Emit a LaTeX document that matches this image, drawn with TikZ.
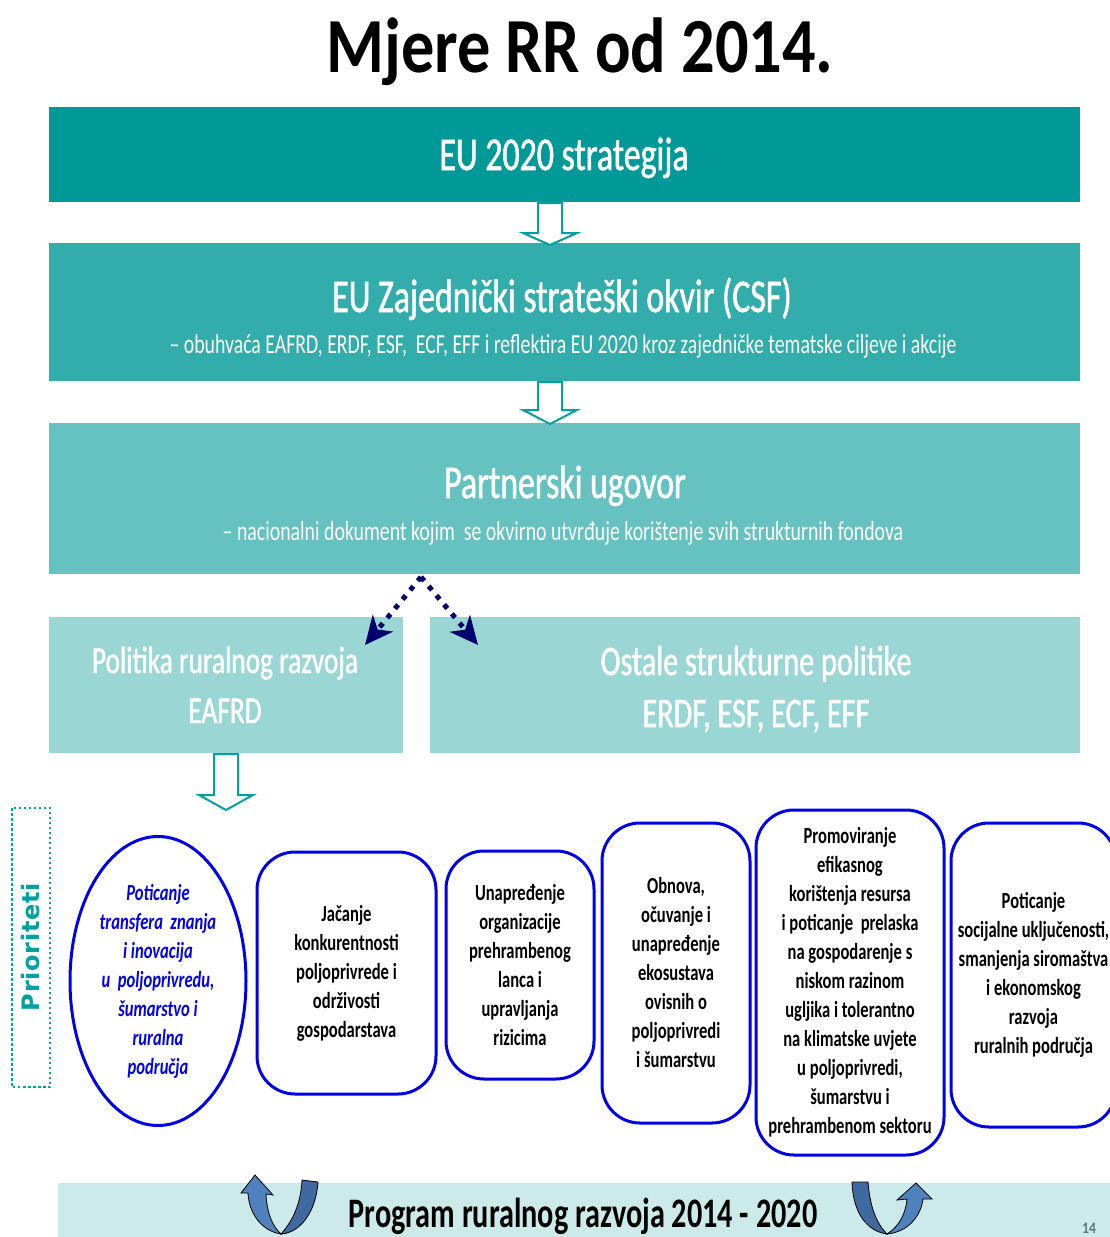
\documentclass[tikz,border=0pt]{standalone}
\usepackage{fontspec}
\setmainfont{Carlito}[FakeStretch=0.85]
\newfontfamily\narrowfont{Carlito}[FakeStretch=0.72]
\newfontfamily\narrowmed{Carlito}[FakeStretch=0.72,FakeBold=1.2]
\newfontfamily\priofont{DejaVu Sans}[LetterSpace=3]
\usetikzlibrary{arrows.meta,calc,shapes.geometric}
\definecolor{tA}{RGB}{0,153,152}
\definecolor{tB}{RGB}{51,173,171}
\definecolor{tC}{RGB}{102,194,192}
\definecolor{tD}{RGB}{153,214,212}
\definecolor{tE}{RGB}{204,234,234}
\definecolor{bordblue}{RGB}{0,0,230}
\definecolor{navyar}{RGB}{0,0,110}
\definecolor{uDark}{RGB}{62,106,160}
\definecolor{uLight}{RGB}{79,129,189}
\definecolor{arrteal}{RGB}{0,160,160}
\definecolor{pgnum}{RGB}{90,120,120}
\newcommand\hollowdown[4]{%
  \draw[arrteal,line width=2pt,fill=white,line join=miter]
    (#1-12,#2) -- (#1+12,#2) -- (#1+12,#3) -- (#1+27,#3) -- (#1,#4)
    -- (#1-27,#3) -- (#1-12,#3) -- cycle;}
\tikzset{
  band/.style={draw=none,anchor=north west,inner sep=0pt},
  ttl/.style={anchor=base,text=white,font=\narrowmed\fontsize{47}{54}\selectfont},
  sub/.style={anchor=base,text=white,font=\narrowfont\fontsize{27.5}{32}\selectfont},
  prbox/.style={draw=bordblue,line width=3pt,rounded corners=38pt,fill=white,
    align=center,inner sep=0pt,font=\narrowfont\bfseries\fontsize{23}{29}\selectfont},
  dotarrow/.style={navyar,line width=5pt,dash pattern=on 5pt off 7pt,
    -{Stealth[length=28pt,width=26pt,inset=8pt]}},
}
\begin{document}
\begin{tikzpicture}[x=1pt,y=-1pt]
\useasboundingbox (0,0) rectangle (1110,1237);
\fill[white] (0,0) rectangle (1110,1237);
\clip (0,0) rectangle (1110,1237);

% title
\node[anchor=base,font=\bfseries\fontsize{78}{90}\selectfont] (title) at (580,72) {Mjere RR od 2014.};

% bands
\node[band,fill=tA,minimum width=1031pt,minimum height=95pt] (b1) at (49,107) {};
\node[ttl] (b1t) at (564,170) {EU 2020 strategija};

\node[band,fill=tB,minimum width=1031pt,minimum height=138pt] (b2) at (49,243) {};
\node[ttl] (b2t) at (562,312) {EU Zajednički strateški okvir (CSF)};
\node[sub] (b2s) at (563,353) {– obuhvaća EAFRD, ERDF, ESF, \ ECF, EFF i reflektira EU 2020 kroz zajedničke tematske ciljeve i akcije};

\node[band,fill=tC,minimum width=1031pt,minimum height=151pt] (b3) at (49,423) {};
\node[ttl] (b3t) at (565,498) {Partnerski ugovor};
\node[sub] (b3s) at (563,540) {– nacionalni dokument kojim \ se okvirno utvrđuje korištenje svih strukturnih fondova};

\node[band,fill=tD,minimum width=354pt,minimum height=136pt] (b4a) at (49,617) {};
\node[anchor=base,text=white,font=\narrowmed\fontsize{38}{44}\selectfont] (b4at1) at (225,673) {Politika ruralnog razvoja};
\node[anchor=base,text=white,font=\narrowmed\fontsize{38}{44}\selectfont] (b4at2) at (225,723) {EAFRD};

\node[band,fill=tD,minimum width=650pt,minimum height=136pt] (b4b) at (430,617) {};
\node[anchor=base,text=white,font=\narrowmed\fontsize{42}{48}\selectfont] (b4bt1) at (756,675) {Ostale strukturne politike};
\node[anchor=base,text=white,font=\narrowmed\fontsize{42}{48}\selectfont] (b4bt2) at (756,727) {ERDF, ESF, ECF, EFF};

% hollow arrows
\hollowdown{550}{203}{233}{245}
\hollowdown{550}{382}{410}{424}
\hollowdown{226}{754}{795}{810}

% dotted arrows
\coordinate (apex) at (421,577);
\coordinate (endL) at (365,645);
\coordinate (endR) at (478,645);
\draw[dotarrow] (apex) -- (endL);
\draw[dotarrow] (apex) -- (endR);

% Prioriteti
\draw[arrteal,line width=2.5pt,dash pattern=on 2.5pt off 2.5pt] (12,808) rectangle (50,1087);
\node[rotate=90,text=arrteal,font=\priofont\bfseries\fontsize{24}{28}\selectfont] (prio) at (31,947) {Prioriteti};

% priorities
\node[draw=bordblue,line width=3pt,ellipse,fill=white,minimum width=176pt,minimum height=289pt,inner sep=0pt,
  align=center,text=bordblue,font=\narrowfont\bfseries\itshape\fontsize{23}{29}\selectfont] (p1) at (158,981)
  {Poticanje\\ transfera \ znanja\\ i inovacija\\ u \ poljoprivredu,\\ šumarstvo i\\ ruralna\\ područja};
\node[prbox,minimum width=179pt,minimum height=242pt] (p2) at (346.5,973)
  {Jačanje\\ konkurentnosti\\ poljoprivrede i\\ održivosti\\ gospodarstava};
\node[prbox,minimum width=148pt,minimum height=228pt] (p3) at (520,965)
  {Unapređenje\\ organizacije\\ prehrambenog\\ lanca i\\ upravljanja\\ rizicima};
\node[prbox,minimum width=148pt,minimum height=300pt] (p4) at (676,973)
  {Obnova,\\ očuvanje i\\ unapređenje\\ ekosustava\\ ovisnih o\\ poljoprivredi\\ i šumarstvu};
\node[prbox,minimum width=188pt,minimum height=345pt] (p5) at (850,982.5)
  {Promoviranje\\ efikasnog\\ korištenja resursa\\ i poticanje \ prelaska\\ na gospodarenje s\\ niskom razinom\\ ugljika i tolerantno\\ na klimatske uvjete\\ u poljoprivredi,\\ šumarstvu i\\ prehrambenom sektoru};
\node[prbox,minimum width=165pt,minimum height=304pt] (p6) at (1033.5,975)
  {Poticanje\\ socijalne uključenosti,\\ smanjenja siromaštva\\ i ekonomskog\\ razvoja\\ ruralnih područja};

% bottom band
\node[band,fill=tE,minimum width=1060pt,minimum height=70pt] (b5) at (58,1183) {};
\node[anchor=base,font=\narrowfont\bfseries\fontsize{42}{48}\selectfont] (b5t) at (583,1227) {Program ruralnog razvoja 2014 - 2020};

% U-turn arrows
\draw[black,line width=0.8pt,fill=uDark] (302,1180) -- (318,1182)
  .. controls (316,1212) and (300,1233) .. (281,1234)
  .. controls (292,1222) and (301,1204) .. (302,1180) -- cycle;
\draw[black,line width=0.8pt,fill=uLight] (241,1193) -- (255,1175) -- (273,1195) -- (266,1194)
  .. controls (267,1214) and (273,1227) .. (281,1234)
  .. controls (262,1231) and (249,1214) .. (248,1193) -- cycle;

\draw[black,line width=0.8pt,fill=uDark] (852,1182) -- (868,1182)
  .. controls (870,1208) and (877,1224) .. (887,1234)
  .. controls (866,1231) and (853,1212) .. (852,1182) -- cycle;
\draw[black,line width=0.8pt,fill=uLight] (887,1234)
  .. controls (900,1226) and (906,1212) .. (907,1199) -- (897,1200) -- (916,1183) -- (932,1199) -- (923,1199)
  .. controls (921,1216) and (908,1232) .. (887,1234) -- cycle;

% page number
\node[anchor=base,text=pgnum,font=\bfseries\fontsize{16}{18}\selectfont] (pg) at (1089,1233) {14};
\end{tikzpicture}
\end{document}
